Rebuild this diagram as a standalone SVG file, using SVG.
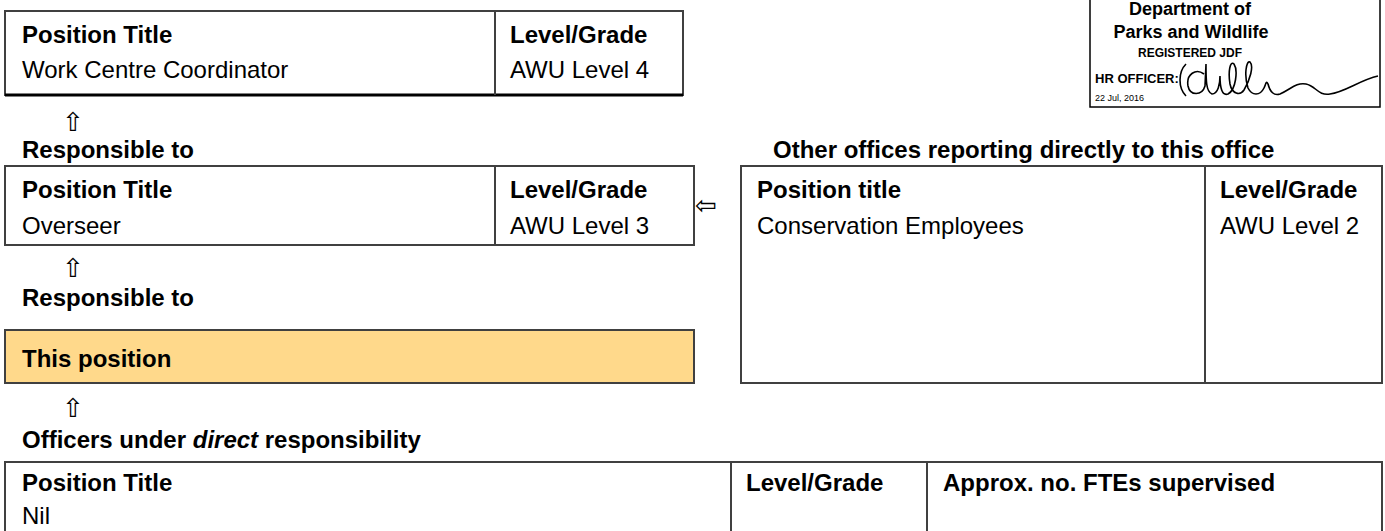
<svg xmlns="http://www.w3.org/2000/svg" width="1385" height="531" viewBox="0 0 1385 531">
<style>
 .t{font-family:"Liberation Sans",Arial,sans-serif;font-size:24px;fill:#000}
 .b{font-weight:bold}
 .box{fill:#fff;stroke:#404040;stroke-width:2}
 .ln{stroke:#404040;stroke-width:2;fill:none}
 .ar{font-family:"DejaVu Sans",sans-serif;font-size:26px;fill:#000}
 .st{font-family:"Liberation Sans",Arial,sans-serif;font-weight:bold;fill:#000}
</style>
<rect width="1385" height="531" fill="#fff"/>
<g id="stamp">
 <rect x="1090" y="-5" width="290" height="112" fill="#fff" stroke="#000" stroke-width="1.5"/>
 <text x="1190" y="15" class="st" font-size="18" text-anchor="middle">Department of</text>
 <text x="1191" y="38" class="st" font-size="18" text-anchor="middle">Parks and Wildlife</text>
 <text x="1190" y="57" class="st" font-size="12" text-anchor="middle">REGISTERED JDF</text>
 <text x="1095" y="83" class="st" font-size="13">HR OFFICER:</text>
 <text x="1095" y="101" font-family="Liberation Sans,Arial,sans-serif" font-size="9">22 Jul, 2016</text>
 <path d="M1186 64 C1178 72 1178 88 1186 96 M1204 74 C1196 68 1186 74 1188 86 C1190 96 1202 96 1205 86 L1206 64 C1206 80 1206 92 1212 94 C1218 94 1220 84 1220 76 C1220 88 1222 96 1228 94 C1236 90 1238 70 1234 64 C1230 60 1228 72 1230 84 C1232 94 1240 96 1244 90 C1250 80 1254 66 1250 62 C1246 60 1244 76 1248 88 C1252 96 1260 96 1264 88 C1266 84 1266 80 1268 84 C1270 92 1274 96 1280 94 C1290 90 1296 82 1306 84 C1316 86 1318 96 1330 94 C1345 92 1360 80 1378 76" fill="none" stroke="#000" stroke-width="1.6"/>
</g>
<g id="node-work-centre">
 <rect class="box" x="5" y="11" width="678" height="84"/>
 <line x1="5" y1="95" x2="683" y2="95" stroke="#000" stroke-width="3"/>
 <line class="ln" x1="495" y1="11" x2="495" y2="95"/>
 <text class="t b" x="22" y="43">Position Title</text>
 <text class="t" x="22" y="78">Work Centre Coordinator</text>
 <text class="t b" x="510" y="43">Level/Grade</text>
 <text class="t" x="510" y="78">AWU Level 4</text>
</g>
<g id="node-overseer">
 <text class="t b" x="22" y="158">Responsible to</text>
 <rect class="box" x="5" y="166" width="689" height="79"/>
 <line class="ln" x1="495" y1="166" x2="495" y2="245"/>
 <text class="t b" x="22" y="198">Position Title</text>
 <text class="t" x="22" y="234">Overseer</text>
 <text class="t b" x="510" y="198">Level/Grade</text>
 <text class="t" x="510" y="234">AWU Level 3</text>
</g>
<g id="node-other-offices">
 <text class="t b" x="773" y="158">Other offices reporting directly to this office</text>
 <rect class="box" x="741" y="166" width="641" height="217"/>
 <line class="ln" x1="1205" y1="166" x2="1205" y2="383"/>
 <text class="t b" x="757" y="198">Position title</text>
 <text class="t" x="757" y="234">Conservation Employees</text>
 <text class="t b" x="1220" y="198">Level/Grade</text>
 <text class="t" x="1220" y="234">AWU Level 2</text>
</g>
<g id="node-this-position">
 <text class="t b" x="22" y="306">Responsible to</text>
 <rect x="5" y="330" width="689" height="53" fill="#FFD98B" stroke="#404040" stroke-width="2"/>
 <text class="t b" x="22" y="367" font-size="28">This position</text>
</g>
<g id="node-officers">
 <text class="t b" x="22" y="448">Officers under <tspan font-style="italic">direct</tspan> responsibility</text>
 <rect class="box" x="5" y="462" width="1377" height="80"/>
 <line class="ln" x1="731" y1="462" x2="731" y2="531"/>
 <line class="ln" x1="927" y1="462" x2="927" y2="531"/>
 <text class="t b" x="22" y="491">Position Title</text>
 <text class="t" x="22" y="524">Nil</text>
 <text class="t b" x="746" y="491">Level/Grade</text>
 <text class="t b" x="943" y="491">Approx. no. FTEs supervised</text>
</g>
<g id="connectors">
 <text class="ar" x="62" y="131">⇧</text>
 <text class="ar" x="62" y="277">⇧</text>
 <text class="ar" x="62" y="417">⇧</text>
 <text class="ar" x="695" y="214">⇦</text>
</g>
</svg>
